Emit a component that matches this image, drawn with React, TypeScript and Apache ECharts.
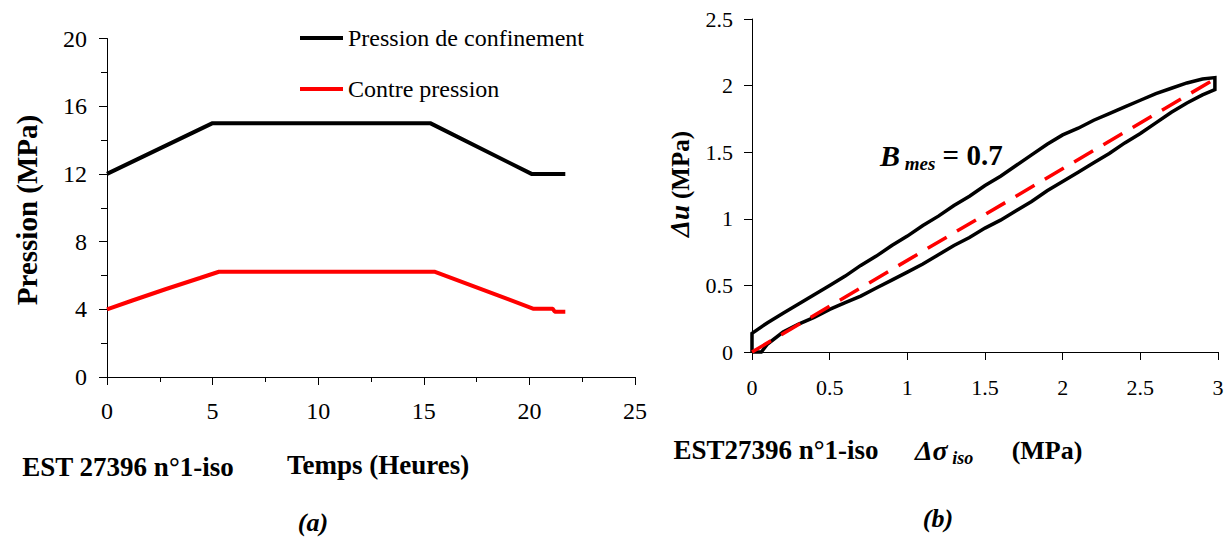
import React, { useEffect, useRef } from "react";
import * as echarts from "echarts";

// ---- Data (a): pressions vs temps ----
const timeConf = [0, 5, 15.3, 20.1, 21.7];
const pressConf = [12, 15, 15, 12, 12];
const timeBack = [0, 1.2, 2.8, 4.4, 5.3, 15.5, 20.2, 21.1, 21.2, 21.7];
const pressBack = [4.0, 4.52, 5.2, 5.85, 6.22, 6.22, 4.03, 4.03, 3.86, 3.86];
const xTicksA = { min: 0, max: 25, interval: 5 };
const yTicksA = { min: 0, max: 20, interval: 4 };

// ---- Data (b): Δu vs Δσiso loop ----
const sigUpper = [0, 0, 0.1, 0.2, 0.3, 0.4, 0.5, 0.6, 0.7, 0.8, 0.9, 1.0, 1.1, 1.2, 1.3, 1.4, 1.5, 1.6, 1.7, 1.8, 1.9, 2.0, 2.1, 2.2, 2.3, 2.4, 2.5, 2.6, 2.7, 2.8, 2.9, 2.98];
const duUpper = [0, 0.14, 0.22, 0.29, 0.36, 0.43, 0.5, 0.57, 0.65, 0.72, 0.8, 0.87, 0.95, 1.02, 1.1, 1.17, 1.25, 1.32, 1.4, 1.48, 1.56, 1.63, 1.68, 1.74, 1.79, 1.84, 1.89, 1.94, 1.98, 2.02, 2.05, 2.06];
const sigLower = [2.98, 2.9, 2.8, 2.7, 2.6, 2.5, 2.4, 2.3, 2.2, 2.1, 2.0, 1.9, 1.8, 1.7, 1.6, 1.5, 1.4, 1.3, 1.2, 1.1, 1.0, 0.9, 0.8, 0.7, 0.6, 0.5, 0.4, 0.3, 0.2, 0.1, 0.06, 0];
const duLower = [1.97, 1.93, 1.87, 1.8, 1.72, 1.64, 1.57, 1.49, 1.42, 1.35, 1.28, 1.21, 1.13, 1.06, 0.99, 0.93, 0.86, 0.8, 0.73, 0.66, 0.6, 0.54, 0.48, 0.42, 0.37, 0.32, 0.26, 0.21, 0.15, 0.06, 0, 0];
const sigFit = [0, 2.98];
const duFit = [0, 2.05];
const xTicksB = { min: 0, max: 3, interval: 0.5 };
const yTicksB = { min: 0, max: 2.5, interval: 0.5 };

const FONT = "Liberation Serif";

const zip = (a: number[], b: number[]) => a.map((v, i) => [v, b[i]]);

const axisBase = (fontSize: number, margin: number) => ({
  axisLine: { show: true, onZero: false, lineStyle: { color: "#000", width: 1 } },
  axisTick: { show: true, length: 8, lineStyle: { color: "#000", width: 1 } },
  splitLine: { show: false },
  axisLabel: { fontSize, color: "#000", margin, fontFamily: FONT },
});

const txt = (fontSize: number, fontWeight: string, fontStyle: string, extra: any = {}) => ({
  fontSize, fontWeight, fontStyle, fontFamily: FONT, fill: "#000", ...extra,
});

export default function App() {
  const ref = useRef<HTMLDivElement>(null);
  useEffect(() => {
    if (!ref.current) return;
    const chart = echarts.init(ref.current, undefined, { renderer: "svg" });
    const loop = zip(sigUpper, duUpper).concat(zip(sigLower, duLower));
    const option: any = {
      animation: false,
      textStyle: { fontFamily: FONT },
      grid: [
        { left: 107, top: 38.5, width: 528, height: 338.5 },
        { left: 752, top: 19, width: 466, height: 333 },
      ],
      xAxis: [
        {
          gridIndex: 0, type: "value", ...xTicksA, ...axisBase(24, 22),
          minorTick: { show: true, splitNumber: 2, length: 5, lineStyle: { color: "#000" } },
        },
        { gridIndex: 1, type: "value", ...xTicksB, ...axisBase(22, 24) },
      ],
      yAxis: [
        {
          gridIndex: 0, type: "value", ...yTicksA, ...axisBase(24, 20),
          minorTick: { show: true, splitNumber: 2, length: 6, lineStyle: { color: "#000" } },
        },
        { gridIndex: 1, type: "value", ...yTicksB, ...axisBase(22, 19) },
      ],
      legend: {
        data: ["Pression de confinement", "Contre pression"],
        orient: "vertical",
        left: 295,
        top: 21,
        itemWidth: 43,
        itemHeight: 4,
        icon: "rect",
        itemGap: 27,
        textStyle: { fontSize: 24, color: "#000", fontFamily: FONT },
      },
      series: [
        {
          name: "Pression de confinement", type: "line", xAxisIndex: 0, yAxisIndex: 0,
          data: zip(timeConf, pressConf), showSymbol: false, color: "#000",
          lineStyle: { color: "#000", width: 4 },
        },
        {
          name: "Contre pression", type: "line", xAxisIndex: 0, yAxisIndex: 0,
          data: zip(timeBack, pressBack), showSymbol: false, color: "#ff0000",
          lineStyle: { color: "#ff0000", width: 4 },
        },
        {
          name: "Boucle", type: "line", xAxisIndex: 1, yAxisIndex: 1,
          data: loop, showSymbol: false, color: "#000", clip: false,
          lineStyle: { color: "#000", width: 3.5, join: "miter" },
        },
        {
          name: "B", type: "line", xAxisIndex: 1, yAxisIndex: 1,
          data: zip(sigFit, duFit), showSymbol: false, color: "#ff0000",
          lineStyle: { color: "#ff0000", width: 3.5, type: [22, 12], cap: "butt" },
        },
      ],
      graphic: [
        {
          type: "text", x: 27, y: 210, rotation: Math.PI / 2,
          style: { text: "Pression (MPa)", ...txt(29, "bold", "normal"), align: "center", verticalAlign: "middle" },
        },
        {
          type: "text", x: 378, y: 465,
          style: { text: "Temps (Heures)", ...txt(27, "bold", "normal"), align: "center", verticalAlign: "middle" },
        },
        {
          type: "text", x: 128, y: 467,
          style: { text: "EST 27396 n°1-iso", ...txt(27, "bold", "normal"), align: "center", verticalAlign: "middle" },
        },
        {
          type: "text", x: 313, y: 522,
          style: { text: "(a)", ...txt(26, "bold", "italic"), align: "center", verticalAlign: "middle" },
        },
        {
          type: "text", x: 680, y: 184, rotation: Math.PI / 2,
          style: {
            text: "{a|Δu}  {b|(MPa)}", align: "center", verticalAlign: "middle", fill: "#000",
            fontFamily: FONT,
            rich: {
              a: txt(27, "bold", "italic"),
              b: txt(25, "bold", "normal"),
            },
          },
        },
        {
          type: "text", x: 880, y: 155,
          style: {
            text: "{a|B}{s| mes}{c| = 0.7}", align: "left", verticalAlign: "middle", fill: "#000",
            fontFamily: FONT,
            rich: {
              a: txt(30, "bold", "italic", { lineHeight: 36, verticalAlign: "middle" }),
              s: txt(19, "bold", "italic", { lineHeight: 20, verticalAlign: "bottom" }),
              c: txt(29, "bold", "normal", { lineHeight: 36, verticalAlign: "middle" }),
            },
          },
        },
        {
          type: "text", x: 776, y: 450,
          style: { text: "EST27396 n°1-iso", ...txt(27, "bold", "normal"), align: "center", verticalAlign: "middle" },
        },
        {
          type: "text", x: 915, y: 450,
          style: {
            text: "{a|Δσ}{s| iso}", align: "left", verticalAlign: "middle", fill: "#000",
            fontFamily: FONT,
            rich: {
              a: txt(28, "bold", "italic", { lineHeight: 34, verticalAlign: "middle" }),
              s: txt(18, "bold", "italic", { lineHeight: 20, verticalAlign: "bottom" }),
            },
          },
        },
        {
          type: "text", x: 1047, y: 450,
          style: { text: "(MPa)", ...txt(26, "bold", "normal"), align: "center", verticalAlign: "middle" },
        },
        {
          type: "text", x: 938, y: 518,
          style: { text: "(b)", ...txt(26, "bold", "italic"), align: "center", verticalAlign: "middle" },
        },
      ],
    };
    chart.setOption(option);
    return () => chart.dispose();
  }, []);
  return (
    <div
      ref={ref}
      style={{ position: "fixed", left: 0, top: 0, width: 1232, height: 547, background: "#fff" }}
    />
  );
}
